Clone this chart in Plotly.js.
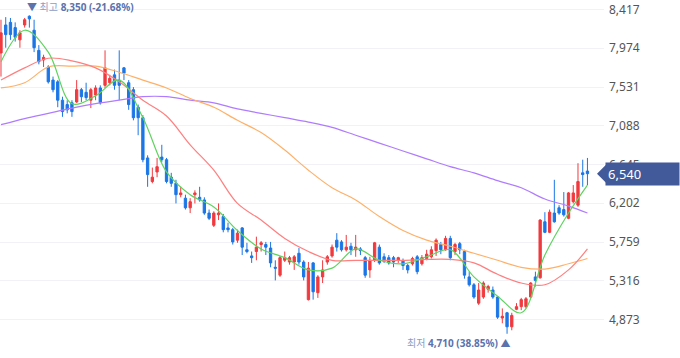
<!DOCTYPE html>
<html><head><meta charset="utf-8">
<script src="https://cdn.plot.ly/plotly-3.0.1.min.js"></script>
<style>html,body{margin:0;padding:0;background:#fff}#c{width:680px;height:358px}</style>
</head><body><div id="c"></div>
<script>
const openP = [7920,8240,8270,8210,8070,8240,8340,8180,7950,7840,7760,7610,7590,7380,7330,7350,7360,7500,7470,7380,7440,7520,7550,7580,7670,7610,7750,7580,7500,7300,7180,6720,6450,6560,6730,6700,6500,6430,6300,6260,6150,6300,6270,6240,6090,5950,6070,6050,5920,5900,5780,5920,5670,5600,5650,5730,5730,5690,5470,5380,5550,5530,5530,5630,5530,5100,5520,5180,5360,5530,5600,5780,5760,5670,5710,5670,5680,5580,5440,5550,5700,5590,5580,5580,5550,5540,5490,5510,5590,5510,5570,5590,5660,5730,5670,5800,5650,5740,5650,5360,5270,5060,5130,5220,5210,5130,4890,4950,4790,4990,5020,5020,5130,5360,5350,5990,5870,6090,6150,6130,6030,6220,6180,6550,6570];
const highP = [8300,8330,8320,8270,8180,8320,8350,8300,8010,7900,7780,7650,7610,7420,7380,7380,7610,7520,7580,7520,7550,7550,7950,7670,7730,7950,7760,7610,7530,7330,7210,6750,6610,6720,6870,6720,6550,6470,6390,6300,6260,6350,6390,6270,6130,6110,6200,6080,5980,5920,5900,5930,5750,5650,5820,5770,5760,5760,5550,5600,5650,5600,5610,5690,5550,5530,5530,5380,5550,5610,5730,5860,5780,5840,5750,5840,5700,5600,5590,5760,5730,5630,5610,5600,5590,5570,5510,5590,5610,5610,5670,5710,5800,5760,5830,5830,5750,5760,5670,5420,5290,5290,5310,5270,5250,5140,5000,4960,4950,5060,5120,5130,5300,5420,6020,6100,6130,6470,6180,6330,6330,6410,6660,6700,6720];
const lowP = [7650,7980,8070,8050,7980,8210,8210,7930,7790,7760,7570,7470,7300,7190,7230,7190,7350,7360,7380,7290,7380,7330,7520,7550,7500,7380,7610,7270,7150,6980,6670,6390,6430,6500,6670,6430,6390,6200,6270,6130,6090,6200,6220,6070,6010,5930,6010,5870,5870,5730,5750,5610,5630,5520,5550,5650,5610,5470,5320,5360,5530,5500,5440,5500,5320,5090,5100,5120,5290,5500,5580,5650,5650,5650,5610,5590,5610,5350,5350,5530,5500,5520,5500,5470,5520,5440,5400,5490,5390,5490,5550,5570,5600,5620,5660,5550,5610,5620,5340,5250,5110,5040,5110,5180,5110,4880,4830,4710,4750,4980,4980,5000,5120,5250,5340,5860,5860,5980,6070,6050,6020,6200,6160,6390,6410];
const closeP = [8150,8130,8130,8100,8150,8300,8310,7980,7820,7870,7590,7500,7380,7250,7270,7250,7500,7420,7410,7500,7520,7350,7750,7630,7550,7550,7690,7330,7180,7180,6700,6530,6500,6620,6700,6450,6430,6300,6320,6150,6220,6320,6240,6090,6030,6090,6090,5900,5900,5760,5860,5700,5650,5580,5700,5750,5700,5520,5460,5580,5580,5580,5590,5530,5360,5460,5190,5360,5440,5590,5700,5700,5670,5700,5670,5700,5660,5380,5550,5750,5520,5540,5520,5530,5580,5490,5440,5570,5420,5580,5620,5670,5780,5670,5800,5580,5730,5670,5380,5270,5130,5210,5290,5250,5130,4900,4910,4790,4920,5020,5100,5110,5290,5320,6010,5870,6100,5990,6090,6070,6320,6320,6450,6530,6540];

const maIdx = [0,5,10,15,20,25,30,35,40,45,50,55,60,65,70,75,80,85,90,95,100,105,110,115,120,124];
const ma5 = [7820,8180,7930,7340,7430,7610,7180,6560,6300,6160,5890,5680,5580,5440,5460,5680,5550,5510,5590,5670,5360,5140,4950,5610,6090,6410];
const ma20 = [7610,7750,7860,7830,7750,7590,7380,7200,6870,6580,6200,6010,5800,5650,5550,5550,5550,5550,5560,5560,5520,5390,5290,5270,5440,5680];
const ma60 = [7520,7580,7760,7770,7770,7700,7610,7520,7400,7300,7150,7010,6810,6580,6380,6240,6050,5890,5780,5710,5630,5550,5470,5450,5510,5570];
const ma120 = [7100,7170,7230,7290,7340,7380,7420,7420,7380,7350,7280,7230,7180,7130,7070,6980,6890,6800,6710,6620,6550,6460,6380,6250,6170,6090];

const yTicks = [4873,5316,5759,6202,6645,7088,7531,7974,8417];
const maxInfo = {idx: 6, price: 8350, pct: '-21.68%'};
const minInfo = {idx: 107, price: 4710, pct: '38.85%'};
const lastPrice = 6540;

const days = openP.map((_, i) => i);
const fmt = v => v.toLocaleString('en-US');

const traces = [
  {type:'scatter', mode:'lines', x: maIdx, y: ma120, line:{color:'#b07cff', width:1.2, shape:'spline'}, hoverinfo:'skip'},
  {type:'scatter', mode:'lines', x: maIdx, y: ma60, line:{color:'#ffb068', width:1.2, shape:'spline'}, hoverinfo:'skip'},
  {type:'scatter', mode:'lines', x: maIdx, y: ma20, line:{color:'#ff7f7f', width:1.2, shape:'spline'}, hoverinfo:'skip'},
  {type:'scatter', mode:'lines', x: maIdx, y: ma5, line:{color:'#5fd35f', width:1.2, shape:'spline'}, hoverinfo:'skip'},
  {type:'candlestick', x: days, open: openP, high: highP, low: lowP, close: closeP,
   increasing:{line:{color:'#f03a3f', width:1}, fillcolor:'#f03a3f'},
   decreasing:{line:{color:'#1b76e6', width:1}, fillcolor:'#1b76e6'},
   hoverinfo:'skip'}
];

const yTop = 8525.6, yBot = 4433;
const pxU = (yTop - yBot) / 358;

const layout = {
  width: 680, height: 358,
  margin: {l:0, r:76, t:0, b:0},
  paper_bgcolor:'#fff', plot_bgcolor:'#fff',
  showlegend: false,
  xaxis: {range:[-0.21, 127.5], showgrid:false, zeroline:false, showticklabels:false, rangeslider:{visible:false}, fixedrange:true},
  yaxis: {side:'right', range:[yBot, yTop], tickvals: yTicks, ticktext: yTicks.map(fmt),
          showgrid:true, gridcolor:'#f1f1f6', gridwidth:1, zeroline:false,
          tickfont:{family:'Noto Sans, Roboto, sans-serif', size:12, color:'#555'}, ticklabelstandoff:4},
  shapes: [
    {type:'path', xref:'paper', yref:'y', layer:'above',
     path: `M ${597/604},${lastPrice} L ${606/604},${lastPrice + 9*pxU} L ${606/604},${lastPrice - 9*pxU} Z`,
     fillcolor:'#42599a', line:{width:0}}
  ],
  annotations: [
    {xref:'x', yref:'y', x: maxInfo.idx, y: maxInfo.price, xanchor:'left', yanchor:'bottom', xshift:-4, yshift:-1, showarrow:false,
     text: `<span style="color:#5b72ad">▼</span> <span style="color:#8d9dc6">최고</span> <b>${fmt(maxInfo.price)} (${maxInfo.pct})</b>`,
     font:{family:'Noto Sans, Noto Sans CJK KR, sans-serif', size:10, color:'#5b72ad'}},
    {xref:'x', yref:'y', x: minInfo.idx, y: minInfo.price, xanchor:'right', yanchor:'top', xshift:5, yshift:0, showarrow:false,
     text: `<span style="color:#8d9dc6">최저</span> <b>${fmt(minInfo.price)} (${minInfo.pct})</b> <span style="color:#5b72ad">▲</span>`,
     font:{family:'Noto Sans, Noto Sans CJK KR, sans-serif', size:10, color:'#5b72ad'}},
    {xref:'paper', yref:'y', x: 605/604, y: lastPrice, xanchor:'left', yanchor:'middle', showarrow:false,
     text: fmt(lastPrice), align:'left', width:69, height:18, borderpad:2, bgcolor:'#42599a',
     font:{family:'Noto Sans, Roboto, sans-serif', size:13, color:'#fff'}}
  ]
};

Plotly.newPlot('c', traces, layout, {staticPlot:true, displayModeBar:false});
</script></body></html>
